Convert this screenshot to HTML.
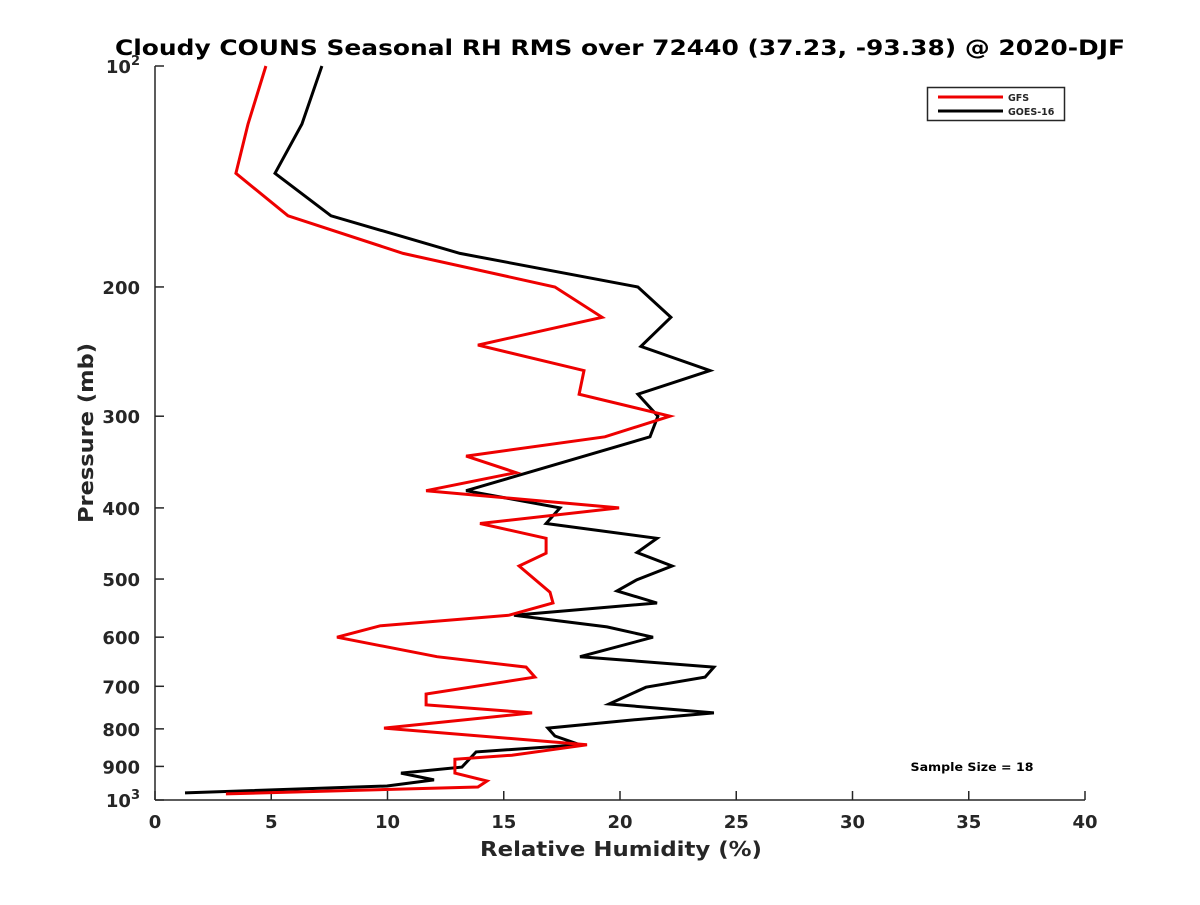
<!DOCTYPE html>
<html><head><meta charset="utf-8"><style>
body{margin:0;background:#fff;}
svg text{font-family:"DejaVu Sans","Liberation Sans",sans-serif;font-weight:bold;fill:#262626;}
</style></head><body>
<svg id="chart" width="1200" height="900" xmlns="http://www.w3.org/2000/svg">
<rect width="1200" height="900" fill="#fff"/>
<text x="620" y="55" text-anchor="middle" font-size="21" textLength="1010" lengthAdjust="spacingAndGlyphs" style="fill:#000">Cloudy COUNS Seasonal RH RMS over 72440 (37.23, -93.38) @ 2020-DJF</text>
<g id="axes"></g>
<g id="series"></g>
<text x="621" y="856" text-anchor="middle" font-size="20" textLength="282" lengthAdjust="spacingAndGlyphs">Relative Humidity (%)</text>
<text transform="translate(93,433) rotate(-90)" text-anchor="middle" font-size="20" textLength="180" lengthAdjust="spacingAndGlyphs">Pressure (mb)</text>
<g>
<rect x="927.5" y="87.5" width="137" height="33" fill="#fff" stroke="#262626" stroke-width="1.5"/>
<line x1="938" y1="97" x2="1003" y2="97" stroke="#e00" stroke-width="3"/>
<text x="1008" y="101" font-size="9.5">GFS</text>
<line x1="938" y1="111" x2="1003" y2="111" stroke="#000" stroke-width="3"/>
<text x="1008" y="115" font-size="9.5">GOES-16</text>
</g>
<text x="972" y="771" text-anchor="middle" font-size="11.5" textLength="123" lengthAdjust="spacingAndGlyphs" style="fill:#000">Sample Size = 18</text>
</svg>
<script>
const xTicks=[0,5,10,15,20,25,30,35,40];
const yTicks=[100,200,300,400,500,600,700,800,900,1000];
const yTickLabels=["","200","300","400","500","600","700","800","900",""];
const gfsP=[100,120,140,160,180,200,220,240,260,280,300,320,340,358,379,400,420,440,461,480,521,539,560,579,600,638,659,680,717,742,761,798,841,869,880,919,942,960,981];
const gfsX=[4.77,4.0,3.48,5.72,10.67,17.2,19.23,13.89,18.45,18.24,22.15,19.35,13.38,15.53,11.66,19.96,13.98,16.82,16.82,15.66,16.99,17.12,15.23,9.68,7.83,12.13,15.96,16.34,11.66,11.66,16.22,9.85,18.58,15.35,12.9,12.9,14.28,13.89,3.05];
const goesP=[100,120,140,160,180,200,220,241,260,280,300,320,379,400,420,440,460,480,501,519,539,560,581,600,638,659,680,702,740,761,776,798,818,841,860,902,919,939,957,978];
const goesX=[7.18,6.32,5.16,7.57,13.12,20.77,22.19,20.9,23.87,20.77,21.63,21.29,13.38,17.42,16.82,21.59,20.73,22.24,20.73,19.87,21.59,15.44,19.44,21.42,18.28,24.04,23.66,21.12,19.53,24.04,20.9,16.9,17.2,18.28,13.81,13.2,10.58,12.0,9.98,1.29];
const X0=155,X1=1085,Y0=66,Y1=800;
function xs(v){return X0+(v-0)/(40-0)*(X1-X0);}
function ys(p){return Y0+(Math.log10(p)-2)*(Y1-Y0);}
const NS="http://www.w3.org/2000/svg";
const axes=document.getElementById('axes');
function mk(tag,attrs,parent){const e=document.createElementNS(NS,tag);for(const k in attrs)e.setAttribute(k,attrs[k]);parent.appendChild(e);return e;}
const yAx=mk('line',{x1:X0,y1:Y0,x2:X0,y2:Y1,stroke:'#262626','stroke-width':1.5},axes);


const xAx=mk('line',{x1:X0,y1:Y1,x2:X1,y2:Y1,stroke:'#262626','stroke-width':1.5},axes);


xTicks.forEach(t=>{
  const l=mk('line',{x1:xs(t),y1:Y1,x2:xs(t),y2:Y1-9,stroke:'#262626','stroke-width':1.5},axes);
  
  
  const tx=mk('text',{x:xs(t),y:Y1+28,'text-anchor':'middle','font-size':18},axes);
  tx.textContent=t;
  
  
});
yTicks.forEach((t,i)=>{
  const l=mk('line',{x1:X0,y1:ys(t),x2:X0+9,y2:ys(t),stroke:'#262626','stroke-width':1.5},axes);
  
  
  const tx=mk('text',{x:X0-15,y:ys(t)+7,'text-anchor':'end','font-size':18},axes);
  if(yTickLabels[i]) tx.textContent=yTickLabels[i];
  else { tx.textContent='10'; const s=mk('tspan',{dy:-8,'font-size':13},tx); s.textContent=(t===100?'2':'3'); }
  
  
});
const ser=document.getElementById('series');
function line(P,V,color,name){
  const d=P.map((p,i)=>(i?'L':'M')+xs(V[i]).toFixed(1)+','+ys(p).toFixed(1)).join('');
  const e=mk('path',{d:d,fill:'none',stroke:color,'stroke-width':3,'stroke-linejoin':'miter'},ser);
  
  
}
line(goesP,goesX,'#000','goes16-line');
line(gfsP,gfsX,'#e00','gfs-line');
</script>
</body></html>
